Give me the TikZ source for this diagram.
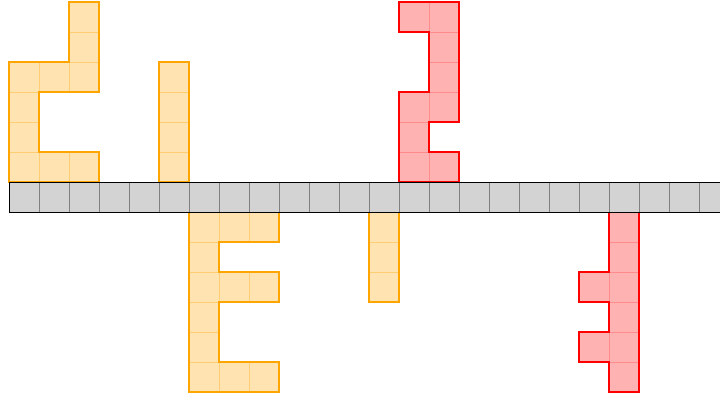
\documentclass[tikz,border=0pt]{standalone}
\usetikzlibrary{calc}
\definecolor{amber}{RGB}{255,165,0}
\definecolor{basegray}{RGB}{211,211,211}

\begin{document}
\begin{tikzpicture}[
    x=1cm, y=1cm,
    basecell/.style={fill=basegray, draw=gray, line width=0.7pt},
    yellowcell/.style={fill=amber!30, draw=amber!55, line width=0.5pt},
    yellowpiece/.style={draw=amber, line width=1pt, line join=miter},
    redcell/.style={fill=red!30, draw=red!45, line width=0.5pt},
    redpiece/.style={draw=red, line width=1pt, line join=miter}
]
\useasboundingbox (-0.3,-6.2) rectangle (23.7,7.0667);
\clip (-0.3,-6.2) rectangle (23.7,7.0667);

% yellow pieces
\foreach \c/\r in {2/6,2/5,0/4,1/4,2/4,0/3,0/2,0/1,1/1,2/1,
                   5/1,5/2,5/3,5/4,
                   6/-1,7/-1,8/-1,6/-2,6/-3,7/-3,8/-3,6/-4,6/-5,6/-6,7/-6,8/-6,
                   12/-1,12/-2,12/-3}
  \draw[yellowcell] (\c,\r) rectangle ++(1,1);
\draw[yellowpiece] (0,1) -- (3,1) -- (3,2) -- (1,2) -- (1,4) -- (3,4) -- (3,7)
  -- (2,7) -- (2,5) -- (0,5) -- cycle;
\draw[yellowpiece] (5,1) rectangle (6,5);
\draw[yellowpiece] (6,0) -- (9,0) -- (9,-1) -- (7,-1) -- (7,-2) -- (9,-2) -- (9,-3)
  -- (7,-3) -- (7,-5) -- (9,-5) -- (9,-6) -- (6,-6) -- cycle;
\draw[yellowpiece] (12,0) rectangle (13,-3);

% red pieces
\foreach \c/\r in {13/6,14/6,14/5,14/4,13/3,14/3,13/2,13/1,14/1,
                   20/-1,20/-2,20/-3,20/-4,20/-5,20/-6,19/-3,19/-5}
  \draw[redcell] (\c,\r) rectangle ++(1,1);
\draw[redpiece] (13,1) -- (15,1) -- (15,2) -- (14,2) -- (14,3) -- (15,3) -- (15,7)
  -- (13,7) -- (13,6) -- (14,6) -- (14,4) -- (13,4) -- cycle;
\draw[redpiece] (20,0) -- (21,0) -- (21,-6) -- (20,-6) -- (20,-5) -- (19,-5)
  -- (19,-4) -- (20,-4) -- (20,-3) -- (19,-3) -- (19,-2) -- (20,-2) -- cycle;

% base row
\foreach \c in {0,...,23}
  \draw[basecell] (\c,0) rectangle ++(1,1);
\draw[line width=0.8pt] (0,0) rectangle (24,1);
\end{tikzpicture}
\end{document}
